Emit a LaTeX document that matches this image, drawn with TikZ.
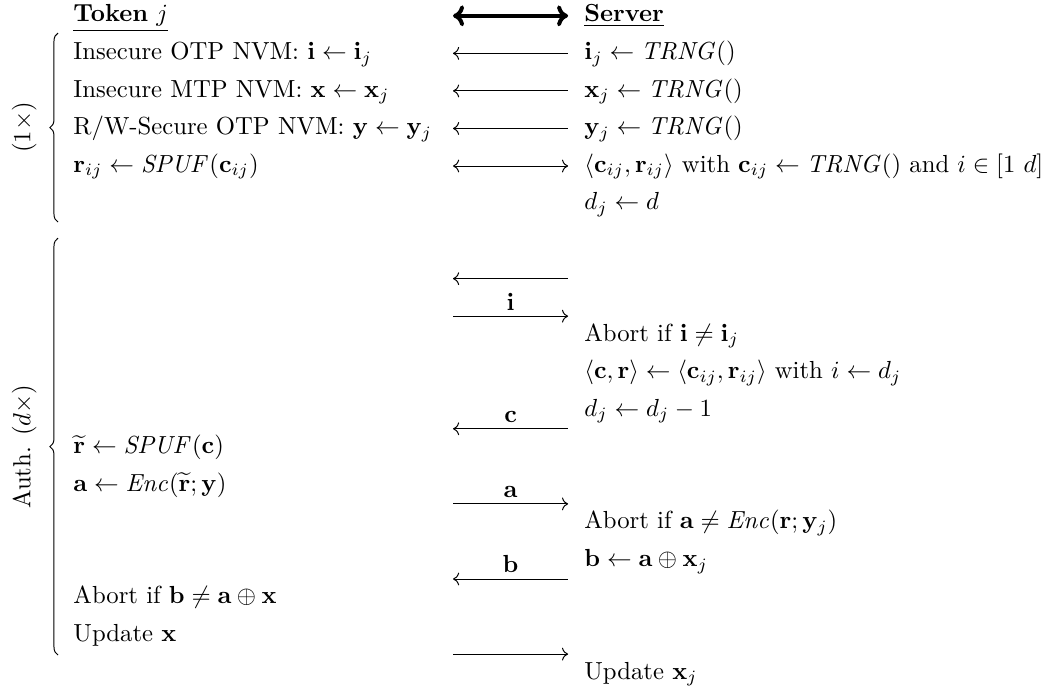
\documentclass[tikz,border=0pt]{standalone}
\usetikzlibrary{arrows.meta,decorations.pathreplacing}

\begin{document}
\begin{tikzpicture}[%
  x=1pt, y=-15.2pt,
  txt/.style={anchor=base west, inner sep=0pt},
  msg/.style={line width=0.4pt},
  hdr/.style={line width=1.6pt, >={Computer Modern Rightarrow[length=4.5pt,width=8.5pt]}},
  lbl/.style={anchor=base, inner sep=0pt, yshift=2.5pt},
  brc/.style={decorate, decoration={brace, amplitude=3.3pt}},
  phase/.style={rotate=90, inner sep=0pt}]
\useasboundingbox (0,-0.5855) rectangle (425.9,17.766);

\foreach \k in {0,1,2,3,4,7,8,11,13,15,17} {
  \coordinate (l\k) at (183.4,{\k-0.164});
  \coordinate (r\k) at (230,{\k-0.164});
}

% token side
\node[txt] (tok)  at (29.55,0) {\underline{\textbf{Token} $j$}};
\node[txt] (tok1) at (29.55,1) {Insecure OTP NVM: $\mathbf{i} \leftarrow \mathbf{i}_j$};
\node[txt] (tok2) at (29.55,2) {Insecure MTP NVM: $\mathbf{x} \leftarrow \mathbf{x}_j$};
\node[txt] (tok3) at (29.55,3) {R/W-Secure OTP NVM: $\mathbf{y} \leftarrow \mathbf{y}_j$};
\node[txt] (tok4) at (29.55,4) {$\mathbf{r}_{ij} \leftarrow \mathit{SPUF}(\mathbf{c}_{ij})$};
\node[txt] (tok5) at (29.55,11.5) {$\widetilde{\mathbf{r}} \leftarrow \mathit{SPUF}(\mathbf{c})$};
\node[txt] (tok6) at (29.55,12.5) {$\mathbf{a} \leftarrow \mathit{Enc}(\widetilde{\mathbf{r}};\mathbf{y})$};
\node[txt] (tok7) at (29.55,15.5) {Abort if $\mathbf{b} \neq \mathbf{a} \oplus \mathbf{x}$};
\node[txt] (tok8) at (29.55,16.5) {Update $\mathbf{x}$};

% server side
\node[txt] (srv)  at (236.4,0) {\underline{\textbf{Server}}};
\node[txt] (srv1) at (236.4,1) {$\mathbf{i}_j \leftarrow \mathit{TRNG}()$};
\node[txt] (srv2) at (236.4,2) {$\mathbf{x}_j \leftarrow \mathit{TRNG}()$};
\node[txt] (srv3) at (236.4,3) {$\mathbf{y}_j \leftarrow \mathit{TRNG}()$};
\node[txt] (srv4) at (236.4,4) {$\langle \mathbf{c}_{ij}, \mathbf{r}_{ij} \rangle$ with $\mathbf{c}_{ij} \leftarrow \mathit{TRNG}()$ and $i \in [1\ d]$};
\node[txt] (srv5) at (236.4,5) {$d_j \leftarrow d$};
\node[txt] (srv6) at (236.4,8.5) {Abort if $\mathbf{i} \neq \mathbf{i}_j$};
\node[txt] (srv7) at (236.4,9.5) {$\langle \mathbf{c}, \mathbf{r} \rangle \leftarrow \langle \mathbf{c}_{ij}, \mathbf{r}_{ij} \rangle$ with $i \leftarrow d_j$};
\node[txt] (srv8) at (236.4,10.5) {$d_j \leftarrow d_j - 1$};
\node[txt] (srv9) at (236.4,13.5) {Abort if $\mathbf{a} \neq \mathit{Enc}(\mathbf{r};\mathbf{y}_j)$};
\node[txt] (srv10) at (236.4,14.5) {$\mathbf{b} \leftarrow \mathbf{a} \oplus \mathbf{x}_j$};
\node[txt] (srv11) at (236.4,17.5) {Update $\mathbf{x}_j$};

% messages
\draw[hdr,<->] (l0) -- (r0);
\draw[msg,<->] (l4) -- (r4);
\foreach \k in {1,2,3,7} \draw[msg,<-] (l\k) -- (r\k);
\draw[msg,->] (l8) -- node[lbl] (mi) {$\mathbf{i}$} (r8);
\draw[msg,<-] (l11) -- node[lbl] (mc) {$\mathbf{c}$} (r11);
\draw[msg,->] (l13) -- node[lbl] (ma) {$\mathbf{a}$} (r13);
\draw[msg,<-] (l15) -- node[lbl] (mb) {$\mathbf{b}$} (r15);
\draw[msg,->] (l17) -- (r17);

% phases
\draw[brc] (23.5,5.33) -- (23.5,0.296);
\draw[brc] (23.5,16.862) -- (23.5,5.757);
\node[phase] (once) at (9.8,2.81) {(1$\times$)};
\node[phase] (auth) at (9.8,11.31) {Auth. ($d\times$)};
\end{tikzpicture}
\end{document}
